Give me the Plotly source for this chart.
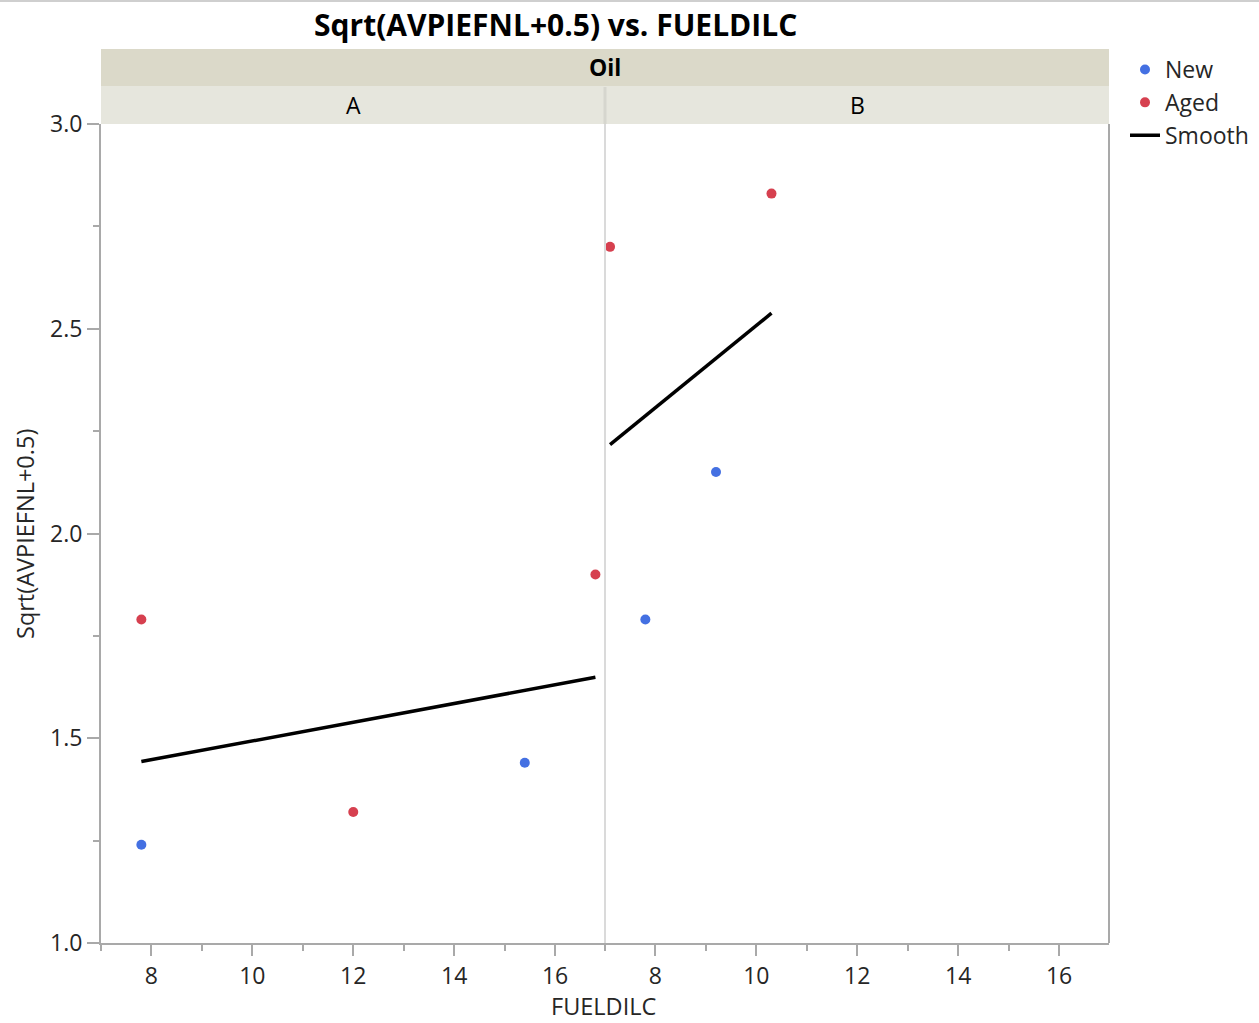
import plotly.graph_objects as go

# ---- data ----
panels = ["A", "B"]

new_x_a = [7.8, 15.4]
new_y_a = [1.24, 1.44]
aged_x_a = [7.8, 12.0, 16.8]
aged_y_a = [1.79, 1.32, 1.90]

new_x_b = [7.8, 9.2]
new_y_b = [1.79, 2.15]
aged_x_b = [7.1, 10.3]
aged_y_b = [2.70, 2.83]

smooth_x_a = [7.8, 16.8]
smooth_y_a = [1.443, 1.649]
smooth_x_b = [7.1, 10.3]
smooth_y_b = [2.217, 2.538]

x_tick_vals = [8, 10, 12, 14, 16]
y_tick_vals = [1.0, 1.5, 2.0, 2.5, 3.0]

# ---- geometry (pixels) ----
W, H = 1259, 1023
L, R, T, B = 101, 1109, 124, 943
MID = 605


def px_x(x):
    return (x - L) / (R - L)


def px_y(y):
    return (B - y) / (B - T)


FONT = "Open Sans"
TXT = "#262626"
AXIS = "#a9a9a9"
BLUE = "#4470e2"
RED = "#d6404f"

fig = go.Figure()

marker_new = dict(color=BLUE, size=10)
marker_aged = dict(color=RED, size=10)

fig.add_trace(go.Scatter(x=new_x_a, y=new_y_a, mode="markers", name="New",
                         legendgroup="new", marker=marker_new, xaxis="x", yaxis="y"))
fig.add_trace(go.Scatter(x=new_x_b, y=new_y_b, mode="markers", name="New",
                         legendgroup="new", showlegend=False, marker=marker_new,
                         xaxis="x2", yaxis="y"))
fig.add_trace(go.Scatter(x=aged_x_a, y=aged_y_a, mode="markers", name="Aged",
                         legendgroup="aged", marker=marker_aged, xaxis="x", yaxis="y"))
fig.add_trace(go.Scatter(x=aged_x_b, y=aged_y_b, mode="markers", name="Aged",
                         legendgroup="aged", showlegend=False, marker=marker_aged,
                         xaxis="x2", yaxis="y"))
fig.add_trace(go.Scatter(x=smooth_x_a, y=smooth_y_a, mode="lines", name="Smooth",
                         legendgroup="smooth", line=dict(color="black", width=3.5),
                         xaxis="x", yaxis="y"))
fig.add_trace(go.Scatter(x=smooth_x_b, y=smooth_y_b, mode="lines", name="Smooth",
                         legendgroup="smooth", showlegend=False,
                         line=dict(color="black", width=3.5), xaxis="x2", yaxis="y"))

xaxis_common = dict(
    range=[7.0, 16.99], tickvals=x_tick_vals, ticks="outside", ticklen=11,
    tickwidth=2, tickcolor=AXIS, showline=True, linecolor=AXIS, linewidth=2,
    showgrid=False, zeroline=False,
    minor=dict(tickvals=[7, 9, 11, 13, 15, 17], ticks="outside", ticklen=6,
               tickwidth=2, tickcolor=AXIS, showgrid=False),
    tickfont=dict(family=FONT, size=23, color=TXT), fixedrange=True,
)

fig.update_layout(
    width=W, height=H,
    margin=dict(l=L, r=W - R, t=T, b=H - B, pad=0, autoexpand=False),
    paper_bgcolor="white", plot_bgcolor="white",
    xaxis=dict(domain=[0, px_x(MID)], anchor="y", **xaxis_common),
    xaxis2=dict(domain=[px_x(MID), 1], anchor="y", **xaxis_common),
    yaxis=dict(
        range=[1.0, 3.0], tickvals=y_tick_vals, tickformat=".1f", ticks="outside",
        ticklen=12, tickwidth=2, tickcolor=AXIS, showline=True, linecolor=AXIS,
        linewidth=2, showgrid=False, zeroline=False,
        minor=dict(tickvals=[1.25, 1.75, 2.25, 2.75], ticks="outside", ticklen=6,
                   tickwidth=2, tickcolor=AXIS, showgrid=False),
        tickfont=dict(family=FONT, size=23, color=TXT), fixedrange=True,
    ),
    showlegend=True,
    legend=dict(
        x=px_x(1125), y=px_y(48), xanchor="left", yanchor="top",
        font=dict(family=FONT, size=23, color=TXT), bgcolor="rgba(0,0,0,0)",
        tracegroupgap=0, itemwidth=30,
    ),
)

shapes = []
# window edge line across the top
shapes.append(dict(type="line", xref="paper", yref="paper",
                   x0=px_x(0), x1=px_x(W), y0=px_y(1), y1=px_y(1),
                   line=dict(color="#cfcfcf", width=2)))
# header bands
shapes.append(dict(type="rect", xref="paper", yref="paper",
                   x0=0, x1=1, y0=px_y(86), y1=px_y(49),
                   fillcolor="#dbd9c9", line=dict(width=0), layer="below"))
shapes.append(dict(type="rect", xref="paper", yref="paper",
                   x0=0, x1=1, y0=px_y(T), y1=px_y(86),
                   fillcolor="#e6e6dd", line=dict(width=0), layer="below"))
shapes.append(dict(type="line", xref="paper", yref="paper",
                   x0=px_x(MID), x1=px_x(MID), y0=px_y(T), y1=px_y(87),
                   line=dict(color="#d6d6ce", width=3)))
# panel divider and right frame
shapes.append(dict(type="line", xref="paper", yref="paper",
                   x0=px_x(MID), x1=px_x(MID), y0=0, y1=1,
                   line=dict(color="#dadada", width=2)))
shapes.append(dict(type="line", xref="paper", yref="paper",
                   x0=1, x1=1, y0=0, y1=1,
                   line=dict(color=AXIS, width=2)))
fig.update_layout(shapes=shapes)

annotations = [
    dict(text="<b>Sqrt(AVPIEFNL+0.5) vs. FUELDILC</b>", x=px_x(555), y=px_y(25),
         xref="paper", yref="paper", showarrow=False, xanchor="center", yanchor="middle",
         font=dict(family=FONT, size=30, color="black")),
    dict(text="<b>Oil</b>", x=px_x(MID), y=px_y(67), xref="paper", yref="paper",
         showarrow=False, xanchor="center", yanchor="middle",
         font=dict(family=FONT, size=23, color="black")),
    dict(text="FUELDILC", x=px_x(603), y=px_y(1006), xref="paper", yref="paper",
         showarrow=False, xanchor="center", yanchor="middle",
         font=dict(family=FONT, size=23.5, color=TXT)),
    dict(text="Sqrt(AVPIEFNL+0.5)", x=px_x(25), y=px_y(534), xref="paper", yref="paper",
         showarrow=False, xanchor="center", yanchor="middle", textangle=-90,
         font=dict(family=FONT, size=23.5, color=TXT)),
]
panel_centers = [(L + MID) / 2, (MID + R) / 2]
for name, cx in zip(panels, panel_centers):
    annotations.append(dict(text=name, x=px_x(cx), y=px_y(105), xref="paper", yref="paper",
                            showarrow=False, xanchor="center", yanchor="middle",
                            font=dict(family=FONT, size=23, color="black")))
fig.update_layout(annotations=annotations)

fig.write_html("out.html", config={"displayModeBar": False})
